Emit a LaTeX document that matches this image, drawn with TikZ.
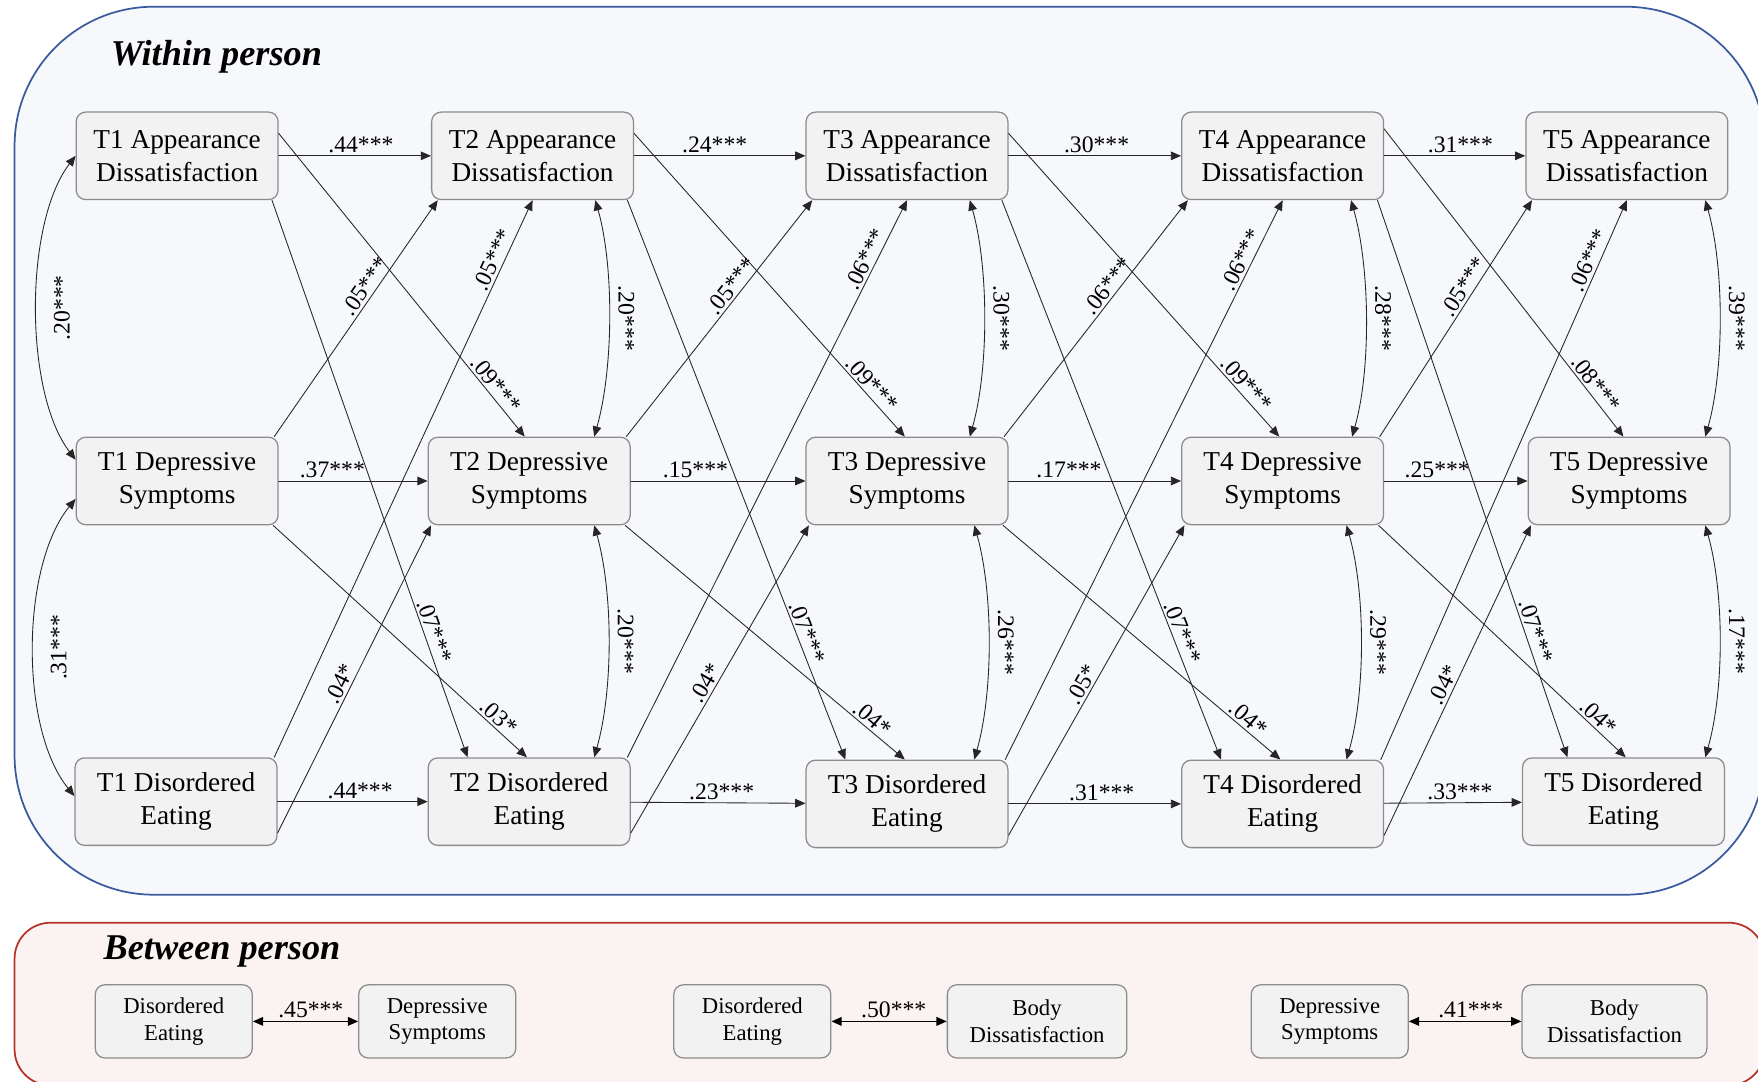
\documentclass[tikz,border=0pt]{standalone}
\usepackage{fontspec}
\setmainfont{Liberation Serif}
\usetikzlibrary{arrows.meta,calc}
\definecolor{wpblue}{RGB}{58,90,158}
\definecolor{wpfill}{RGB}{246,248,252}
\definecolor{bpred}{RGB}{184,48,38}
\definecolor{bpfill}{RGB}{251,242,242}
\definecolor{boxline}{RGB}{140,140,140}
\definecolor{boxfill}{RGB}{242,242,242}
\begin{document}
\begin{tikzpicture}[x=0.025cm,y=-0.025cm,>={Triangle[length=6.5pt,width=5.5pt]},line join=round,line cap=round,
	var/.style={draw=boxline,fill=boxfill,line width=0.8pt,rounded corners=6pt,align=center,inner sep=1pt,minimum width=4.5cm,minimum height=1.95cm,font=\fontsize{17.3}{21}\selectfont},
	bvar/.style={var,minimum width=3.5cm,minimum height=1.63cm,font=\fontsize{14.4}{17}\selectfont},
	lag/.style={->,line width=0.55pt,draw=black!85},
	cov/.style={<->,line width=0.55pt,draw=black!85},
	coef/.style={font=\fontsize{15}{18}\selectfont,inner sep=1.5pt},
	paneltitle/.style={font=\fontsize{23}{27}\selectfont\bfseries\itshape}]
	\useasboundingbox (0,0) rectangle (1568,965);
	\draw[draw=wpblue,fill=wpfill,line width=1.1pt,rounded corners=3.1cm] (13,6) rectangle (1574,798);
	\draw[draw=bpred,fill=bpfill,line width=1.1pt,rounded corners=0.8cm] (13,823) rectangle (1574,968);
	\node[paneltitle] (within) at (193,51) {Within person};
	\node[paneltitle] (between) at (198,849) {Between person};

	\node[var] (AD1) at (158,139) {T1 Appearance\\Dissatisfaction};
	\node[var] (AD2) at (475,139) {T2 Appearance\\Dissatisfaction};
	\node[var] (AD3) at (809,139) {T3 Appearance\\Dissatisfaction};
	\node[var] (AD4) at (1144,139) {T4 Appearance\\Dissatisfaction};
	\node[var] (AD5) at (1451,139) {T5 Appearance\\Dissatisfaction};
	\node[var] (DS1) at (158,429) {T1 Depressive\\Symptoms};
	\node[var] (DS2) at (472,429) {T2 Depressive\\Symptoms};
	\node[var] (DS3) at (809,429) {T3 Depressive\\Symptoms};
	\node[var] (DS4) at (1144,429) {T4 Depressive\\Symptoms};
	\node[var] (DS5) at (1453,429) {T5 Depressive\\Symptoms};
	\node[var] (DE1) at (157,715) {T1 Disordered\\Eating};
	\node[var] (DE2) at (472,715) {T2 Disordered\\Eating};
	\node[var] (DE3) at (809,717) {T3 Disordered\\Eating};
	\node[var] (DE4) at (1144,717) {T4 Disordered\\Eating};
	\node[var] (DE5) at (1448,715) {T5 Disordered\\Eating};

	\draw[lag] (AD1) -- (AD2) node[coef,pos=.54,above]{.44***};
	\draw[lag] (AD2) -- (AD3) node[coef,pos=.47,above]{.24***};
	\draw[lag] (AD3) -- (AD4) node[coef,pos=.51,above]{.30***};
	\draw[lag] (AD4) -- (AD5) node[coef,pos=.54,above]{.31***};
	\draw[lag] (DS1) -- (DS2) node[coef,pos=.36,above]{.37***};
	\draw[lag] (DS2) -- (DS3) node[coef,pos=.37,above]{.15***};
	\draw[lag] (DS3) -- (DS4) node[coef,pos=.35,above]{.17***};
	\draw[lag] (DS4) -- (DS5) node[coef,pos=.37,above]{.25***};
	\draw[lag] (DE1) -- (DE2) node[coef,pos=.55,above]{.44***};
	\draw[lag] (DE2) -- (DE3) node[coef,pos=.52,above]{.23***};
	\draw[lag] (DE3) -- (DE4) node[coef,pos=.54,above]{.31***};
	\draw[lag] (DE4) -- (DE5) node[coef,pos=.55,above]{.33***};

	\draw[lag] ($(AD1.east)+(0,-20)$) -- ($(DS2.north)+(-4,0)$) node[coef,pos=.85,sloped,above]{.09***};
	\draw[lag] ($(AD2.east)+(0,-20)$) -- ($(DS3.north)+(-2,0)$) node[coef,pos=.85,sloped,above]{.09***};
	\draw[lag] ($(AD3.east)+(0,-20)$) -- ($(DS4.north)+(-3,0)$) node[coef,pos=.85,sloped,above]{.09***};
	\draw[lag] ($(AD4.east)+(0,-24)$) -- ($(DS5.north)+(-5,0)$) node[coef,pos=.85,sloped,above]{.08***};
	\draw[lag] ($(AD1.south east)+(-6,0)$) -- ($(DE2.north)+(-55,0)$) node[coef,pos=.78,sloped,above]{.07***};
	\draw[lag] ($(AD2.south east)+(-6,0)$) -- ($(DE3.north)+(-55,0)$) node[coef,pos=.78,sloped,above]{.07***};
	\draw[lag] ($(AD3.south east)+(-6,0)$) -- ($(DE4.north)+(-55,0)$) node[coef,pos=.78,sloped,above]{.07***};
	\draw[lag] ($(AD4.south east)+(-6,0)$) -- ($(DE5.north)+(-50,0)$) node[coef,pos=.78,sloped,above]{.07***};
	\draw[lag] ($(DS1.north east)+(-4,0)$) -- ($(AD2.south west)+(6,0)$) node[coef,pos=.61,sloped,above]{.05***};
	\draw[lag] ($(DS2.north east)+(-4,0)$) -- ($(AD3.south west)+(6,0)$) node[coef,pos=.61,sloped,above]{.05***};
	\draw[lag] ($(DS3.north east)+(-4,0)$) -- ($(AD4.south west)+(6,0)$) node[coef,pos=.61,sloped,above]{.06***};
	\draw[lag] ($(DS4.north east)+(-4,0)$) -- ($(AD5.south west)+(6,0)$) node[coef,pos=.61,sloped,above]{.05***};
	\draw[lag] ($(DE1.north east)+(-3,0)$) -- (AD2.south) node[coef,pos=.885,sloped,above]{.05***};
	\draw[lag] ($(DE2.north east)+(-3,0)$) -- (AD3.south) node[coef,pos=.885,sloped,above]{.06***};
	\draw[lag] ($(DE3.north east)+(-3,0)$) -- (AD4.south) node[coef,pos=.885,sloped,above]{.06***};
	\draw[lag] ($(DE4.north east)+(-3,0)$) -- (AD5.south) node[coef,pos=.885,sloped,above]{.06***};
	\draw[lag] ($(DS1.south east)+(-5,0)$) -- ($(DE2.north)+(-2,0)$) node[coef,pos=.86,sloped,above]{.03*};
	\draw[lag] ($(DS2.south east)+(-5,0)$) -- ($(DE3.north)+(-2,0)$) node[coef,pos=.86,sloped,above]{.04*};
	\draw[lag] ($(DS3.south east)+(-5,0)$) -- ($(DE4.north)+(-2,0)$) node[coef,pos=.86,sloped,above]{.04*};
	\draw[lag] ($(DS4.south east)+(-5,0)$) -- ($(DE5.north)+(2,0)$) node[coef,pos=.86,sloped,above]{.04*};
	\draw[lag] ($(DE1.east)+(0,28)$) -- ($(DS2.south west)+(3,0)$) node[coef,pos=.47,sloped,above]{.04*};
	\draw[lag] ($(DE2.east)+(0,28)$) -- ($(DS3.south west)+(3,0)$) node[coef,pos=.47,sloped,above]{.04*};
	\draw[lag] ($(DE3.east)+(0,28)$) -- ($(DS4.south west)+(3,0)$) node[coef,pos=.47,sloped,above]{.05*};
	\draw[lag] ($(DE4.east)+(0,28)$) -- ($(DS5.south west)+(3,0)$) node[coef,pos=.47,sloped,above]{.04*};

	\draw[cov] (AD1.west) .. controls +(-46,60) and +(-46,-60) .. ($(DS1.west)+(0,-19)$) node[coef,midway,xshift=9pt,anchor=north,rotate=90]{.20***};
	\draw[cov] ($(DS1.west)+(0,16)$) .. controls +(-49,60) and +(-49,-60) .. ($(DE1.west)+(0,-5)$) node[coef,midway,xshift=9pt,anchor=north,rotate=90]{.31***};
	\draw[cov] ($(AD2.south)+(56,0)$) .. controls +(17,60) and +(17,-60) .. ($(DS2.north)+(58,0)$) node[coef,midway,xshift=4pt,anchor=south,rotate=-90]{.20***};
	\draw[cov] ($(DS2.south)+(58,0)$) .. controls +(17,60) and +(17,-60) .. ($(DE2.north)+(58,0)$) node[coef,midway,xshift=4pt,anchor=south,rotate=-90]{.20***};
	\draw[cov] ($(AD3.south)+(56,0)$) .. controls +(17,60) and +(17,-60) .. ($(DS3.north)+(56,0)$) node[coef,midway,xshift=4pt,anchor=south,rotate=-90]{.30***};
	\draw[cov] ($(DS3.south)+(60,0)$) .. controls +(17,60) and +(17,-60) .. ($(DE3.north)+(60,0)$) node[coef,midway,xshift=4pt,anchor=south,rotate=-90]{.26***};
	\draw[cov] ($(AD4.south)+(61,0)$) .. controls +(17,60) and +(17,-60) .. ($(DS4.north)+(62,0)$) node[coef,midway,xshift=4pt,anchor=south,rotate=-90]{.28***};
	\draw[cov] ($(DS4.south)+(57,0)$) .. controls +(17,60) and +(17,-60) .. ($(DE4.north)+(57,0)$) node[coef,midway,xshift=4pt,anchor=south,rotate=-90]{.29***};
	\draw[cov] ($(AD5.south)+(70,0)$) .. controls +(17,60) and +(17,-60) .. ($(DS5.north)+(68,0)$) node[coef,midway,xshift=4pt,anchor=south,rotate=-90]{.39***};
	\draw[cov] ($(DS5.south)+(68,0)$) .. controls +(17,60) and +(17,-60) .. ($(DE5.north)+(73,0)$) node[coef,midway,xshift=4pt,anchor=south,rotate=-90]{.17***};

	\node[bvar] (bDE1) at (155,911) {Disordered\\Eating};
	\node[bvar] (bDS1) at (390,911) {Depressive\\Symptoms};
	\node[bvar] (bDE2) at (671,911) {Disordered\\Eating};
	\node[bvar,minimum width=4cm] (bBD2) at (925,911) {Body\\Dissatisfaction};
	\node[bvar] (bDS3) at (1186,911) {Depressive\\Symptoms};
	\node[bvar,minimum width=4.12cm] (bBD3) at (1440,911) {Body\\Dissatisfaction};
	\draw[<->,line width=0.9pt] (bDE1) -- (bDS1) node[coef,pos=.55,above]{.45***};
	\draw[<->,line width=0.9pt] (bDE2) -- (bBD2) node[coef,pos=.54,above]{.50***};
	\draw[<->,line width=0.9pt] (bDS3) -- (bBD3) node[coef,pos=.55,above]{.41***};
\end{tikzpicture}
\end{document}
